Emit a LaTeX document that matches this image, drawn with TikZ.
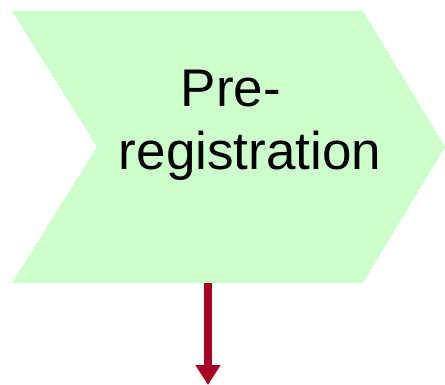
\documentclass[tikz,border=0pt]{standalone}
\usepackage{fontspec}
\setmainfont{Liberation Sans}
\usetikzlibrary{arrows.meta}
\definecolor{chevfill}{HTML}{CCFFCC}
\definecolor{arrowred}{HTML}{A50026}
\tikzset{
  chevron/.style={fill=chevfill, draw=none},
  label text/.style={font=\fontsize{53}{63}\selectfont, text=black, inner sep=0pt},
  flowarrow/.style={draw=arrowred, line width=8pt, -{Triangle[length=20pt,width=24pt]}}
}
\begin{document}
\begin{tikzpicture}[x=1pt,y=-1pt]
\useasboundingbox (0,0) rectangle (445,385);
\path[chevron] (12,11) -- (363,11) -- (445,147) -- (363,283) -- (12,283) -- (97,147) -- cycle;
\node[label text, anchor=base] (l1) at (231,107) {Pre-};
\node[label text, anchor=base] (l2) at (250,170) {registration};
\coordinate (src) at (208,283);
\coordinate (dst) at (208,385);
\draw[flowarrow] (src) -- (dst);
\end{tikzpicture}
\end{document}
